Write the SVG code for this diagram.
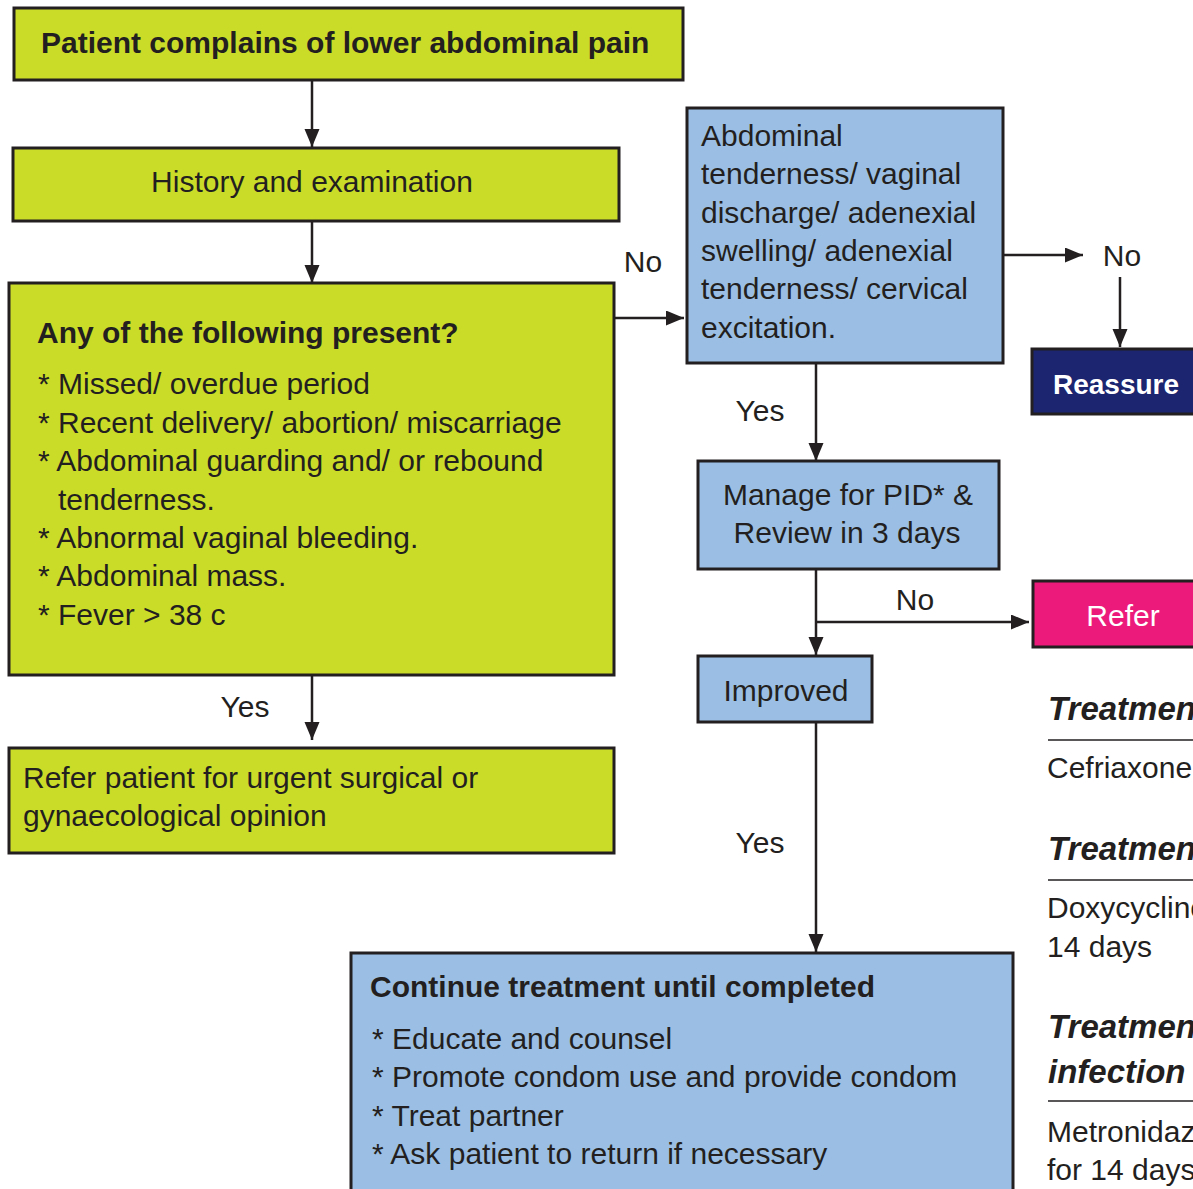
<svg xmlns="http://www.w3.org/2000/svg" width="1193" height="1189" viewBox="0 0 1193 1189">
  <style>
    .box { stroke: #231f20; stroke-width: 3; }
    .green { fill: #cbdc28; }
    .blue { fill: #9bbfe4; }
    .navy { fill: #1b2570; }
    .pink { fill: #ec1a7b; }
    text { font-family: "Liberation Sans", Arial, sans-serif; font-size: 30px; fill: #231f20; }
    .b { font-weight: bold; }
    .c { text-anchor: middle; }
    .w { fill: #ffffff; }
    .bi { font-weight: bold; font-style: italic; font-size: 33px; }
    .conn { stroke: #231f20; stroke-width: 2.5; fill: none; }
    .rule { stroke: #231f20; stroke-width: 1.5; }
  </style>
  <defs>
    <marker id="arrow" markerUnits="userSpaceOnUse" markerWidth="20" markerHeight="16" refX="18" refY="7.5" orient="auto">
      <path d="M0,0 L18,7.5 L0,15 z" fill="#231f20"/>
    </marker>
  </defs>

  <!-- connectors -->
  <g id="connectors">
    <line class="conn" x1="312" y1="80" x2="312" y2="147" marker-end="url(#arrow)"/>
    <line class="conn" x1="312" y1="221" x2="312" y2="283" marker-end="url(#arrow)"/>
    <line class="conn" x1="614" y1="318" x2="684" y2="318" marker-end="url(#arrow)"/>
    <line class="conn" x1="312" y1="675" x2="312" y2="740" marker-end="url(#arrow)"/>
    <line class="conn" x1="1003" y1="255" x2="1083" y2="255" marker-end="url(#arrow)"/>
    <line class="conn" x1="1120" y1="277" x2="1120" y2="347" marker-end="url(#arrow)"/>
    <line class="conn" x1="816" y1="363" x2="816" y2="461" marker-end="url(#arrow)"/>
    <line class="conn" x1="816" y1="569" x2="816" y2="655" marker-end="url(#arrow)"/>
    <line class="conn" x1="815" y1="622" x2="1029" y2="622" marker-end="url(#arrow)"/>
    <line class="conn" x1="816" y1="722" x2="816" y2="952" marker-end="url(#arrow)"/>
    <text x="643" y="272" class="c">No</text>
    <text x="1122" y="266" class="c">No</text>
    <text x="245" y="717" class="c">Yes</text>
    <text x="760" y="421" class="c">Yes</text>
    <text x="915" y="610" class="c">No</text>
    <text x="760" y="853" class="c">Yes</text>
  </g>

  <g id="start">
    <rect class="box green" x="14" y="8" width="669" height="72"/>
    <text x="41" y="53" class="b">Patient complains of lower abdominal pain</text>
  </g>

  <g id="history">
    <rect class="box green" x="13" y="148" width="606" height="73"/>
    <text x="312" y="192" class="c">History and examination</text>
  </g>

  <g id="danger-signs">
    <rect class="box green" x="9" y="283" width="605" height="392"/>
    <text x="37" y="343" class="b">Any of the following present?</text>
    <text x="38" y="394">* Missed/ overdue period</text>
    <text x="38" y="433">* Recent delivery/ abortion/ miscarriage</text>
    <text x="38" y="471">* Abdominal guarding and/ or rebound</text>
    <text x="58" y="510">tenderness.</text>
    <text x="38" y="548">* Abnormal vaginal bleeding.</text>
    <text x="38" y="586">* Abdominal mass.</text>
    <text x="38" y="625">* Fever &gt; 38 c</text>
  </g>

  <g id="refer-urgent">
    <rect class="box green" x="9" y="748" width="605" height="105"/>
    <text x="23" y="788">Refer patient for urgent surgical or</text>
    <text x="23" y="826">gynaecological opinion</text>
  </g>

  <g id="pid-signs">
    <rect class="box blue" x="687" y="108" width="316" height="255"/>
    <text x="701" y="146">Abdominal</text>
    <text x="701" y="184">tenderness/ vaginal</text>
    <text x="701" y="223">discharge/ adenexial</text>
    <text x="701" y="261">swelling/ adenexial</text>
    <text x="701" y="299">tenderness/ cervical</text>
    <text x="701" y="338">excitation.</text>
  </g>

  <g id="reassure">
    <rect class="box navy" x="1032" y="349" width="175" height="65"/>
    <text x="1053" y="394" class="b w" style="font-size:28px">Reassure</text>
  </g>

  <g id="manage-pid">
    <rect class="box blue" x="698" y="461" width="301" height="108"/>
    <text x="848" y="505" class="c">Manage for PID* &amp;</text>
    <text x="847" y="543" class="c">Review in 3 days</text>
  </g>

  <g id="refer">
    <rect class="box pink" x="1033" y="581" width="175" height="66"/>
    <text x="1123" y="626" class="c w">Refer</text>
  </g>

  <g id="improved">
    <rect class="box blue" x="698" y="656" width="174" height="66"/>
    <text x="786" y="701" class="c">Improved</text>
  </g>

  <g id="continue">
    <rect class="box blue" x="351" y="953" width="662" height="250"/>
    <text x="370" y="997" class="b">Continue treatment until completed</text>
    <text x="372" y="1049">* Educate and counsel</text>
    <text x="372" y="1087">* Promote condom use and provide condom</text>
    <text x="372" y="1126">* Treat partner</text>
    <text x="372" y="1164">* Ask patient to return if necessary</text>
  </g>

  <!-- treatment notes column -->
  <g id="treatment-notes">
    <text x="1048" y="720" class="bi">Treatment</text>
    <line class="rule" x1="1048" y1="740" x2="1193" y2="740"/>
    <text x="1047" y="778">Cefriaxone</text>
    <text x="1048" y="860" class="bi">Treatment</text>
    <line class="rule" x1="1048" y1="880" x2="1193" y2="880"/>
    <text x="1047" y="918">Doxycycline</text>
    <text x="1047" y="957">14 days</text>
    <text x="1048" y="1038" class="bi">Treatment</text>
    <text x="1048" y="1083" class="bi">infection</text>
    <line class="rule" x1="1048" y1="1101" x2="1193" y2="1101"/>
    <text x="1047" y="1142">Metronidazole</text>
    <text x="1047" y="1180">for 14 days</text>
  </g>
</svg>
